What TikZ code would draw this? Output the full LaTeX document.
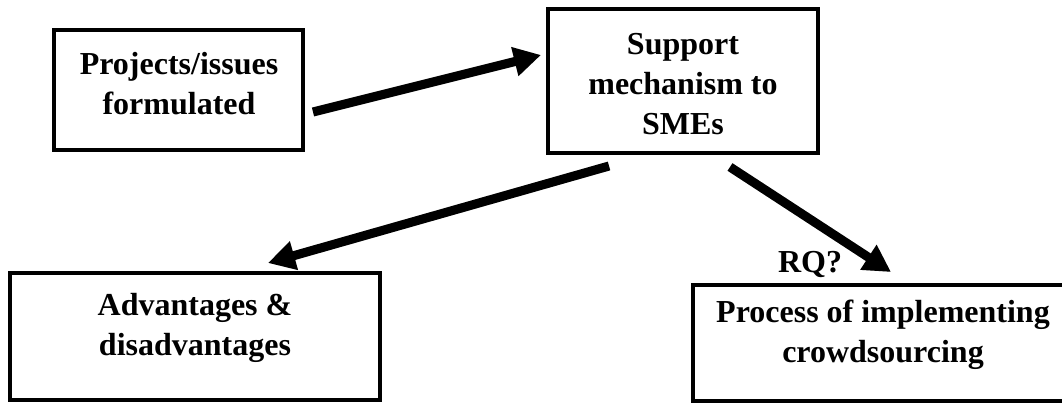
\documentclass[tikz,border=0pt]{standalone}
\usepackage{fontspec}
\setmainfont{Liberation Serif}
\usetikzlibrary{arrows.meta}
\tikzset{
  boxframe/.style={draw=black, line width=4pt, inner sep=0pt},
  boxtext/.style={font=\bfseries\fontsize{32}{40}\selectfont, align=center, inner sep=0pt},
  bigarrow/.style={line width=9pt, -{Triangle[length=27pt,width=28pt]}},
  arrowshadow/.style={line width=9pt, draw=black, opacity=0.18, -{Triangle[length=27pt,width=28pt]}},
}
\begin{document}
\begin{tikzpicture}[x=1pt,y=-1pt]
\useasboundingbox (0,0) rectangle (1062,402);
\clip (0,0) rectangle (1062,402);
% boxes
\draw[boxframe] (54,30) rectangle (303,150) coordinate (b1);
\draw[boxframe] (548,9) rectangle (818,153);
\draw[boxframe] (10,273) rectangle (380,400);
\draw[boxframe] (693,285) rectangle (1080,401);
% texts
\node[boxtext] (t1) at (179,84) {Projects/issues\\formulated};
\node[boxtext] (t2) at (683,84) {Support\\mechanism to\\SMEs};
\node[boxtext] (t3) at (195,328) {Advantages \&\\disadvantages};
\node[boxtext] (t4) at (883,335) {Process of implementing\\crowdsourcing};
\node[boxtext, anchor=base] (rq) at (810,272) {RQ?};
% arrow end points
\coordinate (a1s) at (313,112);
\coordinate (a1e) at (541,55);
\coordinate (a2s) at (609,166);
\coordinate (a2e) at (268,263);
\coordinate (a3s) at (730,167);
\coordinate (a3e) at (891,272);
% shadows
\begin{scope}[shift={(3,5)}]
\draw[arrowshadow] (a1s) -- (a1e);
\draw[arrowshadow] (a2s) -- (a2e);
\draw[arrowshadow] (a3s) -- (a3e);
\end{scope}
% arrows
\draw[bigarrow] (a1s) -- (a1e);
\draw[bigarrow] (a2s) -- (a2e);
\draw[bigarrow] (a3s) -- (a3e);
\end{tikzpicture}
\end{document}
